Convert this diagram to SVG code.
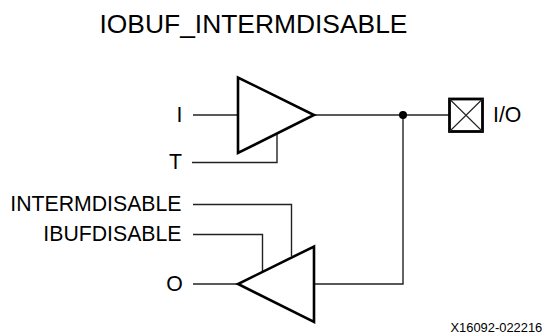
<svg xmlns="http://www.w3.org/2000/svg" width="543" height="335" viewBox="0 0 543 335">
<style>
text{font-family:"Liberation Sans",Arial,sans-serif;fill:#000}
.l{font-size:21.25px}
.w{fill:none;stroke:#222;stroke-width:1.4}
.b{fill:#fff;stroke:#000;stroke-width:2.6;stroke-linejoin:miter}
</style>
<rect width="543" height="335" fill="#fff"/>
<text id="title" x="99.500" y="33" font-size="26.4">IOBUF_INTERMDISABLE</text>
<g id="connectors">
<path class="w" d="M193 115H238"/>
<path class="w" d="M192 162.500H277V133"/>
<path class="w" d="M314 115H449"/>
<path class="w" d="M193 204.500H291.500V256"/>
<path class="w" d="M193 234.500H262.500V272"/>
<path class="w" d="M193 284H238"/>
<path class="w" d="M314 284H403V115"/>
<circle cx="403" cy="115" r="4" fill="#000"/>
</g>
<g id="input-buffer"><path class="b" d="M238 77.500V153L314 115Z"/></g>
<g id="output-buffer"><path class="b" d="M314 246.500V322L238 284Z"/></g>
<g id="io-pad"><rect x="449.500" y="99" width="33" height="32.500" fill="#fff" stroke="#000" stroke-width="2.800"/><path d="M449.500 99L482.500 131.500M482.500 99L449.500 131.500" stroke="#222" stroke-width="1.100"/></g>
<g id="labels">
<text class="l" x="179.500" y="121.500" text-anchor="middle">I</text>
<text class="l" x="175.500" y="169" text-anchor="middle">T</text>
<text class="l" x="181.500" y="211" text-anchor="end">INTERMDISABLE</text>
<text class="l" x="181.500" y="240.500" text-anchor="end">IBUFDISABLE</text>
<text class="l" x="174.500" y="290.500" text-anchor="middle">O</text>
<text class="l" x="493" y="122">I/O</text>
<text x="450.500" y="332" font-size="12.9">X16092-022216</text>
</g>
</svg>
